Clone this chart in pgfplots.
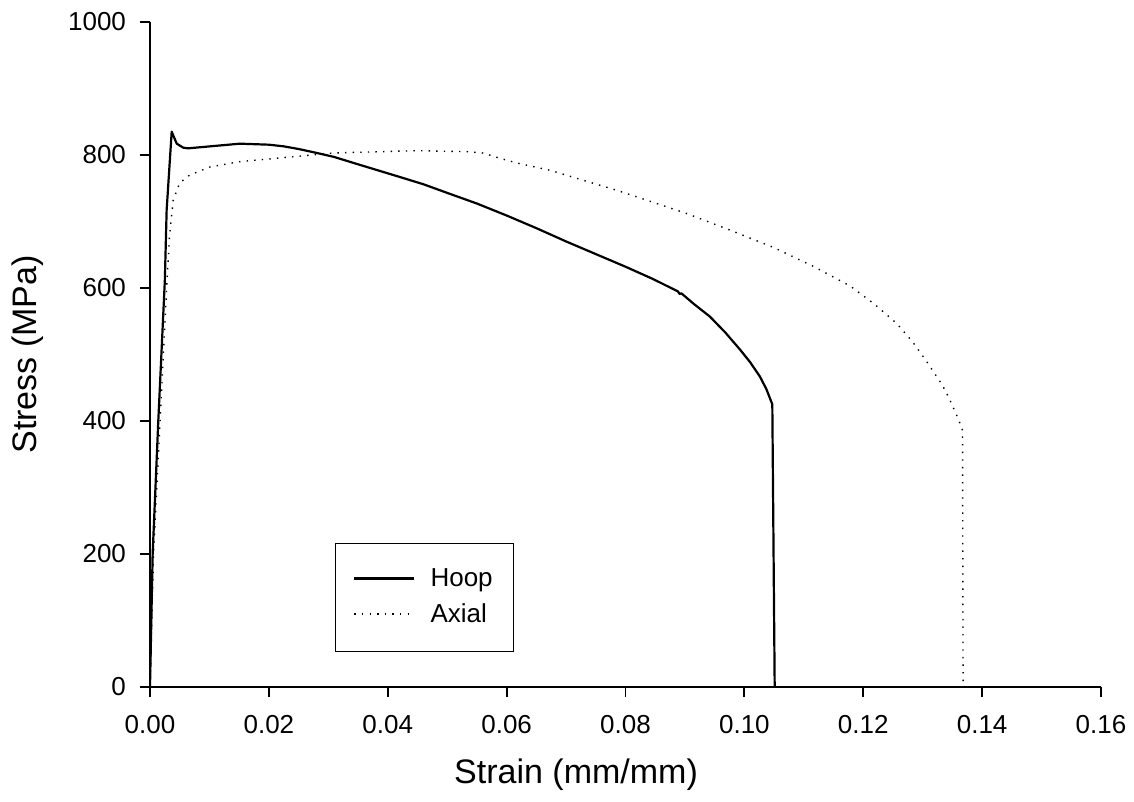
\documentclass[border=0pt]{standalone}
\usepackage{fontspec}
\setmainfont{Liberation Sans}
\usepackage{pgfplots}
\pgfplotsset{compat=1.18}
\begin{document}
\begin{tikzpicture}
\path[use as bounding box] (-75pt,-57.5pt) rectangle (492pt,343.5pt);
\begin{axis}[
  at={(0,0)}, anchor=south west,
  scale only axis, width=475.5pt, height=332.5pt,
  xmin=0, xmax=0.16, ymin=0, ymax=1000,
  axis x line*=bottom, axis y line*=left,
  axis line style={-, line width=0.9pt},
  xtick={0,0.02,0.04,0.06,0.08,0.10,0.12,0.14,0.16},
  ytick={0,200,400,600,800,1000},
  scaled x ticks=false,
  tick align=outside, major tick length=5pt,
  tick style={line width=0.9pt, black},
  /pgf/number format/assume math mode=true,
  /pgf/number format/1000 sep={},
  xticklabel style={/pgf/number format/fixed, /pgf/number format/fixed zerofill, /pgf/number format/precision=2, font=\fontsize{13}{15}\selectfont, yshift=-5.5pt},
  yticklabel style={font=\fontsize{13}{15}\selectfont, xshift=-3.5pt},
  xlabel={Strain (mm/mm)}, ylabel={Stress (MPa)},
  every axis x label/.style={at={(axis description cs:0.448,-0.1323)}, anchor=center, font=\fontsize{17}{20}\selectfont},
  every axis y label/.style={at={(axis description cs:-0.1283,0.5)}, anchor=center, rotate=90, font=\fontsize{17}{20}\selectfont},
  legend style={at={(axis cs:0.0311,216.5)}, anchor=north west, draw=black, line width=0.5pt,
    inner xsep=9pt, inner ysep=12pt, row sep=5.8pt,
    font=\fontsize{13}{15}\selectfont,
    nodes={inner sep=0pt, text width=32.5pt, text height=9.5pt, text depth=2.5pt},
    /tikz/every odd column/.append style={column sep=7.5pt}},
  legend cell align=left,
  legend image code/.code={\draw[#1] (0pt,0.5pt) -- (30pt,0.5pt);},
]
\addplot[black, line width=1.1pt, line join=round] coordinates {
(0,0) (0.00045,201) (0.0014,401) (0.0025,612) (0.0028,717) (0.00365,835)
(0.0045,817) (0.0056,811) (0.0064,810) (0.0095,812.5) (0.0151,817) (0.0168,816.5)
(0.020,815.5) (0.0225,813) (0.025,809) (0.0281,803) (0.031,797) (0.035,786)
(0.042,767) (0.046,756) (0.050,743) (0.055,727) (0.060,709) (0.065,690)
(0.070,670) (0.075,651) (0.080,632) (0.0845,614) (0.0888,595)
(0.0891,591) (0.0894,592) (0.0915,576) (0.0942,557) (0.0968,533) (0.0993,507)
(0.1010,488) (0.1026,467) (0.1037,448) (0.1047,425)
(0.1051,0)
};
\addlegendentry{Hoop}
\addplot[black, line width=0.7pt, dash pattern=on 0.7pt off 3.1pt] coordinates {
(0,0) (0.0006,200) (0.0017,400) (0.0028,600) (0.0033,680) (0.0039,732)
(0.005,758) (0.0067,770) (0.0101,782) (0.0151,790) (0.0236,797) (0.0308,803)
(0.0449,806.5) (0.0533,805) (0.056,803) (0.0589,795) (0.0617,788) (0.0673,777)
(0.0729,762) (0.0785,747) (0.0836,732) (0.0903,712) (0.0976,687) (0.1049,661)
(0.1115,633) (0.1178,603) (0.1217,577) (0.1256,547) (0.1283,519) (0.1307,489)
(0.1333,454) (0.1343,437) (0.1352,419) (0.1360,403) (0.1367,386) (0.1368,0)
};
\addlegendentry{Axial}
\end{axis}
\end{tikzpicture}
\end{document}
